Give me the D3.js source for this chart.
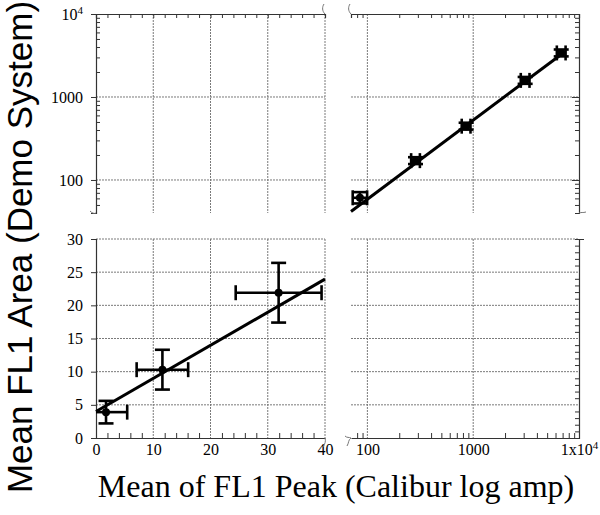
<!DOCTYPE html>
<html><head><meta charset="utf-8">
<script src="https://cdn.jsdelivr.net/npm/d3@7"></script>
<style>body{margin:0;background:#fff}svg{display:block}.tick text{font-family:'Liberation Serif','Times New Roman',serif !important;font-size:16px !important}</style>
</head><body>
<svg id="c" width="600" height="515"></svg>
<script>
// ---- data ----
const linX = [1.75, 11.6, 31.9];
const linY = [3.9, 10.3, 21.9];
const linXErr = [3.7, 4.5, 7.5];
const linYErr = [1.7, 3.0, 4.5];
const linFitX = [0, 40];
const linFitY = [4.0, 23.95];

const logX = [85, 285, 857, 3097, 6790];
const logY = [61, 171, 445, 1585, 3394];
const logErrFrac = [0.17, 0.10, 0.10, 0.10, 0.10];
const logFitX = [70, 7244];
const logFitY = [41.7, 3467];

const linXTicks = [0, 10, 20, 30, 40];
const linXTickLabels = ["0", "10", "20", "30", "40"];
const linYTicks = [0, 5, 10, 15, 20, 25, 30];
const logXTicks = [100, 1000, 10000];
const logXTickLabels = ["100", "1000", "1x10^4"];
const logYTicks = [100, 1000, 10000];
const logYTickLabels = ["100", "1000", "10^4"];

const xTitle = "Mean of FL1 Peak (Calibur log amp)";
const yTitle = "Mean FL1 Area (Demo System)";

// ---- scales ----
const L = 96, M = 325, R0 = 351, R = 579, T = 14, B1 = 213, T2 = 239, B = 438;
const xLin = d3.scaleLinear().domain([0, 40]).range([L, M]);
const xLog = d3.scaleLog().domain([70, 10000]).range([R0, R]);
const yLog = d3.scaleLog().domain([40, 10000]).range([B1, T]);
const yLin = d3.scaleLinear().domain([0, 30]).range([B, T2]);

const svg = d3.select("#c");
const serif = "'Liberation Serif','Times New Roman',serif";
const sans = "'Liberation Sans',Arial,sans-serif";

function logMinors(lo, hi) {
  const out = [];
  for (let d = 10; d <= 10000; d *= 10)
    for (let k = 2; k <= 9; k++) { const v = k * d; if (v > lo && v < hi) out.push(v); }
  [40,50,60,70,80,90].forEach(v => { if (v > lo && v < hi && !out.includes(v)) out.push(v); });
  return out;
}
const linMinX = d3.range(0, 41, 2).filter(v => v % 10 !== 0);
const linMinY = d3.range(0, 31, 1).filter(v => v % 5 !== 0);

// ---- grids ----
const grid = svg.append("g").attr("stroke", "#7a7a7a").attr("stroke-width", 1).attr("stroke-dasharray", "2,1");
// TL
[10, 20, 30, 40].forEach(v => grid.append("line").attr("x1", xLin(v)).attr("x2", xLin(v)).attr("y1", T).attr("y2", B1));
[100, 1000].forEach(v => grid.append("line").attr("x1", L).attr("x2", M).attr("y1", yLog(v)).attr("y2", yLog(v)));
// TR
[100, 1000].forEach(v => grid.append("line").attr("x1", xLog(v)).attr("x2", xLog(v)).attr("y1", T).attr("y2", B1));
[100, 1000].forEach(v => grid.append("line").attr("x1", R0).attr("x2", R).attr("y1", yLog(v)).attr("y2", yLog(v)));
// BL
[10, 20, 30, 40].forEach(v => grid.append("line").attr("x1", xLin(v)).attr("x2", xLin(v)).attr("y1", T2).attr("y2", B));
[5, 10, 15, 20, 25, 30].forEach(v => grid.append("line").attr("x1", L).attr("x2", M).attr("y1", yLin(v)).attr("y2", yLin(v)));
// BR
[100, 1000].forEach(v => grid.append("line").attr("x1", xLog(v)).attr("x2", xLog(v)).attr("y1", T2).attr("y2", B));
[5, 10, 15, 20, 25, 30].forEach(v => grid.append("line").attr("x1", R0).attr("x2", R).attr("y1", yLin(v)).attr("y2", yLin(v)));

// ---- axes ----
function styleAxis(g) {
  g.attr("font-family", serif).attr("font-size", 16);
  g.selectAll("path.domain").attr("stroke", "#333").attr("stroke-width", 1.2);
  g.selectAll(".tick line").attr("stroke", "#333").attr("stroke-width", 1);
  g.selectAll("text").attr("fill", "#000");
}
function supLabel(sel, fmt) {
  sel.selectAll(".tick text").each(function(d, i) {
    const s = fmt[i]; const t = d3.select(this); t.text(null);
    const parts = s.split("^");
    t.append("tspan").text(parts[0]);
    if (parts[1]) t.append("tspan").attr("dy", "-0.55em").style("font-size", "11px").text(parts[1]);
  });
}
// TL left (log)
let g = svg.append("g").attr("transform", `translate(${L},0)`);
g.call(d3.axisLeft(yLog).tickValues(logYTicks).tickSize(5).tickPadding(8));
supLabel(g, logYTickLabels); styleAxis(g);
g.append("g").call(d3.axisLeft(yLog).tickValues(logMinors(40, 10000)).tickSize(-4).tickFormat("")).call(s => s.select(".domain").remove()).call(styleAxis);
// TL top
g = svg.append("g").attr("transform", `translate(0,${T})`);
g.call(d3.axisTop(xLin).tickValues(linMinX.concat([10,20,30])).tickSize(-4).tickFormat("")).call(styleAxis);
// TR top
g = svg.append("g").attr("transform", `translate(0,${T})`);
g.call(d3.axisTop(xLog).tickValues(logMinors(70, 10000)).tickSize(-4).tickFormat("")).call(styleAxis);
// TR right
g = svg.append("g").attr("transform", `translate(${R},0)`);
g.call(d3.axisRight(yLog).tickValues(logMinors(40, 10000)).tickSize(-4).tickFormat("")).call(styleAxis);
g.append("g").call(d3.axisRight(yLog).tickValues([100, 1000]).tickSize(-7).tickFormat("")).call(s => s.select(".domain").remove()).call(styleAxis);
// BL left
g = svg.append("g").attr("transform", `translate(${L},0)`);
g.call(d3.axisLeft(yLin).tickValues(linYTicks).tickSize(5).tickPadding(8)).call(styleAxis);
// BL bottom
g = svg.append("g").attr("transform", `translate(0,${B})`);
g.call(d3.axisBottom(xLin).tickValues(linXTicks).tickSize(0).tickPadding(6).tickFormat((d, i) => linXTickLabels[i])).call(styleAxis);
g.append("g").call(d3.axisBottom(xLin).tickValues(linMinX).tickSize(-5).tickFormat("")).call(s => s.select(".domain").remove()).call(styleAxis);
// BR bottom
g = svg.append("g").attr("transform", `translate(0,${B})`);
g.call(d3.axisBottom(xLog).tickValues(logXTicks).tickSize(0).tickPadding(6));
supLabel(g, logXTickLabels); styleAxis(g);
g.append("g").call(d3.axisBottom(xLog).tickValues(logMinors(70, 10000)).tickSize(-5).tickFormat("")).call(s => s.select(".domain").remove()).call(styleAxis);
// BR right
g = svg.append("g").attr("transform", `translate(${R},0)`);
g.call(d3.axisRight(yLin).tickValues(linMinY).tickSize(-4).tickFormat("")).call(styleAxis);
g.append("g").call(d3.axisRight(yLin).tickValues([30]).tickSize(5).tickFormat("")).call(s => s.select(".domain").remove()).call(styleAxis);

// ---- break marks ----
const brk = svg.append("g").attr("fill", "none").attr("stroke", "#777").attr("stroke-width", 1);
brk.append("path").attr("d", `M${M},${T} C${M-3},${T-3} ${M-3},${T-7} ${M-1},${T-10}`);
brk.append("path").attr("d", `M${R0},${T} C${R0-3},${T-3} ${R0-3},${T-7} ${R0-1},${T-10}`);
brk.append("path").attr("d", `M${L},${B1} C${L-2},${B1+1} ${L-4},${B1} ${L-6},${B1-2}`);
brk.append("path").attr("d", `M${R},${B1} C${R+2},${B1-1} ${R+4},${B1} ${R+7},${B1-1}`);
brk.append("path").attr("d", `M${M},${B} C${M+1},${B+3} ${M},${B+6} ${M-2},${B+9}`);
brk.append("path").attr("d", `M${R0},${B} C${R0-3},${B+2} ${R0-2},${B+5} ${R0-4},${B+8}`);
brk.append("path").attr("d", `M${R0},${B} C${R0-2},${B-1} ${R0-4},${B} ${R0-6},${B-2}`);

// ---- fit lines ----
svg.append("line").attr("x1", xLin(linFitX[0])).attr("y1", yLin(linFitY[0])).attr("x2", xLin(linFitX[1])).attr("y2", yLin(linFitY[1]))
  .attr("stroke", "#000").attr("stroke-width", 3);
svg.append("line").attr("x1", xLog(logFitX[0])).attr("y1", yLog(logFitY[0])).attr("x2", xLog(logFitX[1])).attr("y2", yLog(logFitY[1]))
  .attr("stroke", "#000").attr("stroke-width", 3);

// ---- error bars & points ----
const cap = 7.5;
const eb = svg.append("g").attr("stroke", "#000").attr("stroke-width", 2.6).attr("fill", "none");
linX.forEach((x, i) => {
  const y = linY[i];
  const x0 = Math.max(0, x - linXErr[i]), x1 = x + linXErr[i];
  const y0 = y - linYErr[i], y1 = y + linYErr[i];
  eb.append("line").attr("x1", xLin(x0)).attr("x2", xLin(x1)).attr("y1", yLin(y)).attr("y2", yLin(y));
  if (x - linXErr[i] >= 0) eb.append("line").attr("x1", xLin(x0)).attr("x2", xLin(x0)).attr("y1", yLin(y) - cap).attr("y2", yLin(y) + cap);
  eb.append("line").attr("x1", xLin(x1)).attr("x2", xLin(x1)).attr("y1", yLin(y) - cap).attr("y2", yLin(y) + cap);
  eb.append("line").attr("x1", xLin(x)).attr("x2", xLin(x)).attr("y1", yLin(y0)).attr("y2", yLin(y1));
  eb.append("line").attr("x1", xLin(x) - cap).attr("x2", xLin(x) + cap).attr("y1", yLin(y0)).attr("y2", yLin(y0));
  eb.append("line").attr("x1", xLin(x) - cap).attr("x2", xLin(x) + cap).attr("y1", yLin(y1)).attr("y2", yLin(y1));
  svg.append("circle").attr("cx", xLin(x)).attr("cy", yLin(y)).attr("r", 4).attr("fill", "#000");
});
logX.forEach((x, i) => {
  const y = logY[i], f = logErrFrac[i];
  const x0 = x / (1 + f), x1 = x * (1 + f), y0 = y / (1 + f), y1 = y * (1 + f);
  eb.append("line").attr("x1", xLog(x0)).attr("x2", xLog(x1)).attr("y1", yLog(y)).attr("y2", yLog(y));
  [x0, x1].forEach(v => eb.append("line").attr("x1", xLog(v)).attr("x2", xLog(v)).attr("y1", yLog(y) - cap).attr("y2", yLog(y) + cap));
  eb.append("line").attr("x1", xLog(x)).attr("x2", xLog(x)).attr("y1", yLog(y0)).attr("y2", yLog(y1));
  [y0, y1].forEach(v => eb.append("line").attr("x1", xLog(x) - cap).attr("x2", xLog(x) + cap).attr("y1", yLog(v)).attr("y2", yLog(v)));
  svg.append("circle").attr("cx", xLog(x)).attr("cy", yLog(y)).attr("r", 4).attr("fill", "#000");
});

// ---- titles ----
svg.append("text").attr("x", 336).attr("y", 497).attr("text-anchor", "middle")
  .attr("font-family", serif).attr("font-size", 32).attr("fill", "#000").text(xTitle);
svg.append("text").attr("transform", "translate(32,247) rotate(-90)").attr("text-anchor", "middle")
  .attr("font-family", sans).attr("font-size", 35).attr("fill", "#000").text(yTitle);
</script>
</body></html>
